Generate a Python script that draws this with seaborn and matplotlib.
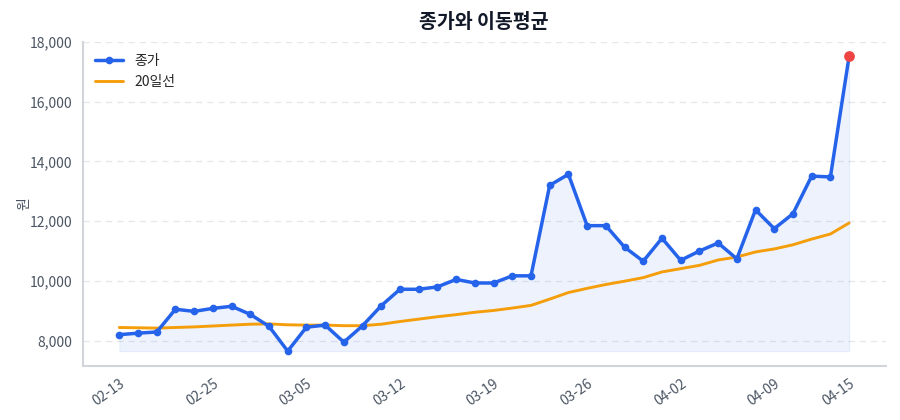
import matplotlib
matplotlib.use("Agg")
import numpy as np
import pandas as pd
import seaborn as sns
import matplotlib.pyplot as plt
from matplotlib.ticker import FuncFormatter

# data
dates = ["02-13", "02-14", "02-17", "02-19", "02-21", "02-25", "02-26", "02-27", "02-28", "03-04",
         "03-05", "03-06", "03-07", "03-10", "03-11", "03-12", "03-13", "03-14", "03-17", "03-18",
         "03-19", "03-20", "03-21", "03-24", "03-25", "03-26", "03-27", "03-28", "03-31", "04-01",
         "04-02", "04-03", "04-04", "04-07", "04-08", "04-09", "04-10", "04-11", "04-14", "04-15"]
close = [8200, 8250, 8290, 9050, 8980, 9080, 9150, 8880, 8480, 7650,
         8450, 8520, 7950, 8500, 9170, 9720, 9720, 9800, 10050, 9930,
         9930, 10170, 10170, 13200, 13570, 11850, 11850, 11130, 10660, 11430,
         10690, 11000, 11270, 10740, 12380, 11750, 12250, 13510, 13480, 17520]
ma20 = [8440, 8430, 8420, 8440, 8460, 8490, 8520, 8550, 8560, 8530,
        8520, 8520, 8500, 8500, 8550, 8640, 8720, 8800, 8870, 8950,
        9010, 9090, 9180, 9390, 9610, 9750, 9880, 9990, 10110, 10300,
        10410, 10520, 10700, 10800, 10970, 11070, 11210, 11400, 11570, 11940]
tick_idx = [0, 5, 10, 15, 20, 25, 30, 35, 39]

BLUE = "#2563eb"
ORANGE = "#f59e0b"
RED = "#ef4444"

df = pd.DataFrame({"i": range(len(dates)), "date": dates, "close": close, "ma20": ma20})

sns.set_theme(style="white")
plt.rcParams["font.family"] = ["Noto Sans CJK KR", "DejaVu Sans"]
plt.rcParams["axes.unicode_minus"] = False

fig = plt.figure(figsize=(9, 4.2), dpi=100)
ax = fig.add_axes([0.092, 0.129, 0.892, 0.772])

ax.fill_between(df.i, df.close, df.close.min(), color=BLUE, alpha=0.08, linewidth=0.8, zorder=1)
sns.lineplot(data=df, x="i", y="close", ax=ax, color=BLUE, linewidth=2.5, marker="o",
             markersize=5.5, markeredgewidth=0, label="종가", zorder=3)
sns.lineplot(data=df, x="i", y="ma20", ax=ax, color=ORANGE, linewidth=2.1, label="20일선", zorder=2)
last = df.iloc[[-1]]
sns.scatterplot(data=last, x="i", y="close", ax=ax, color=RED, s=60, linewidth=0, zorder=4, legend=False)

ax.set_xticks(tick_idx)
ax.set_xticklabels([dates[k] for k in tick_idx], rotation=35, ha="right", rotation_mode="anchor")
ax.yaxis.set_major_formatter(FuncFormatter(lambda v, p: f"{int(v):,}"))
ax.set_yticks(range(8000, 18001, 2000))
ax.margins(x=0.05, y=0.05)

ax.grid(axis="y", linestyle=(0, (5, 4)), color="#e5e7eb", linewidth=0.9)
for s in ["top", "right"]:
    ax.spines[s].set_visible(False)
for s in ["left", "bottom"]:
    ax.spines[s].set_color("#d1d5db")
    ax.spines[s].set_linewidth(1.5)
ax.tick_params(axis="both", length=4, width=1, color="#6b7280", labelsize=10, labelcolor="#4b5563")
ax.tick_params(axis="x", pad=4)

ax.set_xlabel("")
ax.set_ylabel("원", fontsize=10, color="#4b5563", labelpad=-1)
ax.set_title("종가와 이동평균", fontsize=14, fontweight="bold", color="#111827", pad=10)

ax.legend(loc="upper left", frameon=False, fontsize=10, handlelength=2.0)

fig.savefig("out.png", dpi=100)
